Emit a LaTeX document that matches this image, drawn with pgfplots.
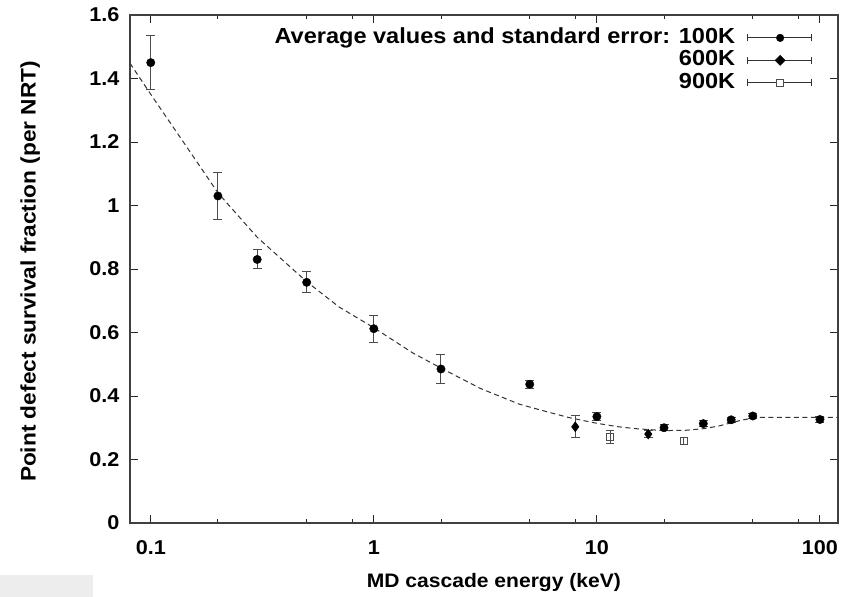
\documentclass[border=0pt]{standalone}
\usepackage{pgfplots}
\pgfplotsset{compat=1.18}
\usepackage{fontspec}
\setmainfont{Liberation Sans}
\newfontfamily\wsf[FakeStretch=1.08]{Liberation Sans}
\begin{document}
\begin{tikzpicture}[x=1pt,y=1pt]
\path[use as bounding box] (0,0) rectangle (852,597);
\fill[black!7] (0,0) rectangle (93,22);
\begin{axis}[
  at={(130pt,74pt)}, anchor=south west,
  scale only axis, width=708pt, height=508pt,
  xmode=log, xmin=0.0807, xmax=120.5,
  ymin=0, ymax=1.6,
  xtick={0.1,1,10,100}, xticklabels={0.1,1,10,100},
  minor xtick={0.2,0.5,0.8,2,5,8,20,50,80},
  ytick={0,0.2,0.4,0.6,0.8,1,1.2,1.4,1.6},
  yticklabels={0,0.2,0.4,0.6,0.8,1,1.2,1.4,1.6},
  tick align=inside, tick pos=both,
  major tick length=8pt, minor tick length=4pt,
  every tick/.style={black!85, line width=0.9pt},
  axis line style={line width=1.5pt, black!75},
  /pgf/number format/assume math mode=true,
  tick label style={font=\wsf\fontsize{20}{22}\selectfont\bfseries},
  xlabel={MD cascade energy (keV)},
  ylabel={Point defect survival fraction (per NRT)},
  xlabel style={font=\wsf\fontsize{19.5}{22}\selectfont\bfseries,
    at={(axis description cs:0.514,-0.118)}, anchor=center},
  ylabel style={font=\wsf\fontsize{21}{24}\selectfont\bfseries,
    at={(axis description cs:-0.141,0.495)}, anchor=center},
  xticklabel style={yshift=-14pt},
  yticklabel style={xshift=-7pt},
  legend plot pos=right,
  legend cell align=right,
  legend style={at={(axis description cs:0.963,0.977)}, anchor=north east,
    draw=none, fill=none, inner sep=0pt, row sep=0.5pt, column sep=10pt,
    font=\wsf\fontsize{21.8}{24}\selectfont\bfseries,
    nodes={inner sep=1.5pt, text height=15pt, text depth=4pt}},
]
\addplot[black!80, line width=1pt, dash pattern=on 5pt off 3.5pt, forget plot] coordinates {
(0.0807,1.448) (0.1,1.35) (0.14,1.20) (0.2,1.04) (0.3,0.90) (0.5,0.76) (0.7,0.68)
(1,0.615) (1.5,0.535) (2,0.488) (3,0.424) (4.5,0.374) (6,0.35) (7.5,0.332)
(10,0.314) (12.5,0.303) (15,0.297) (20,0.291) (25,0.292) (30,0.297) (35,0.305)
(44,0.323) (52,0.333) (70,0.333) (120.5,0.333)
};
\addplot[only marks, mark=*, mark size=4.2pt, black,
  legend image code/.code={
    \draw[line width=0.9pt, black!80] (0pt,0pt) -- (64pt,0pt);
    \draw[line width=0.9pt, black!80] (0pt,-3.5pt) -- (0pt,3.5pt);
    \draw[line width=0.9pt, black!80] (64pt,-3.5pt) -- (64pt,3.5pt);
    \fill[black] (33pt,0pt) circle (3.8pt);},
  error bars/.cd, y dir=both, y explicit,
  error bar style={line width=1pt, black!70},
  error mark options={rotate=90, mark size=4.5pt, line width=1pt, black!70}
] coordinates {
(0.1,1.45) +- (0,0.085)
(0.2,1.03) +- (0,0.073)
(0.3,0.83) +- (0,0.03)
(0.5,0.758) +- (0,0.033)
(1,0.612) +- (0,0.043)
(2,0.485) +- (0,0.046)
(5,0.437) +- (0,0.012)
(10,0.335) +- (0,0.012)
(20,0.300) +- (0,0.01)
(30,0.313) +- (0,0.01)
(40,0.325) +- (0,0.008)
(50,0.337) +- (0,0.008)
(100,0.326) +- (0,0.008)
};
\addlegendentry{Average values and standard error: 100K}
\addplot[only marks, mark=diamond*, mark size=5pt, black,
  legend image code/.code={
    \draw[line width=0.9pt, black!80] (0pt,0pt) -- (64pt,0pt);
    \draw[line width=0.9pt, black!80] (0pt,-3.5pt) -- (0pt,3.5pt);
    \draw[line width=0.9pt, black!80] (64pt,-3.5pt) -- (64pt,3.5pt);
    \fill[black] (33pt,5pt) -- (38pt,0pt) -- (33pt,-5pt) -- (28pt,0pt) -- cycle;},
  error bars/.cd, y dir=both, y explicit,
  error bar style={line width=1pt, black!70},
  error mark options={rotate=90, mark size=4.5pt, line width=1pt, black!70}
] coordinates {
(8,0.303) +- (0,0.035)
(17,0.28) +- (0,0.01)
};
\addlegendentry{600K}
\addplot[only marks, mark=square, mark size=3.5pt, black, mark options={line width=1pt, black!70},
  legend image code/.code={
    \draw[line width=0.9pt, black!80] (0pt,0pt) -- (64pt,0pt);
    \draw[line width=0.9pt, black!80] (0pt,-3.5pt) -- (0pt,3.5pt);
    \draw[line width=0.9pt, black!80] (64pt,-3.5pt) -- (64pt,3.5pt);
    \draw[line width=1pt, black!70, fill=white] (29.5pt,-3.5pt) rectangle (36.5pt,3.5pt);},
  error bars/.cd, y dir=both, y explicit,
  error bar style={line width=1pt, black!70},
  error mark options={rotate=90, mark size=4pt, line width=1pt, black!70}
] coordinates {
(11.5,0.27) +- (0,0.02)
(24.5,0.258) +- (0,0.012)
};
\addlegendentry{900K}
\end{axis}
\end{tikzpicture}
\end{document}
